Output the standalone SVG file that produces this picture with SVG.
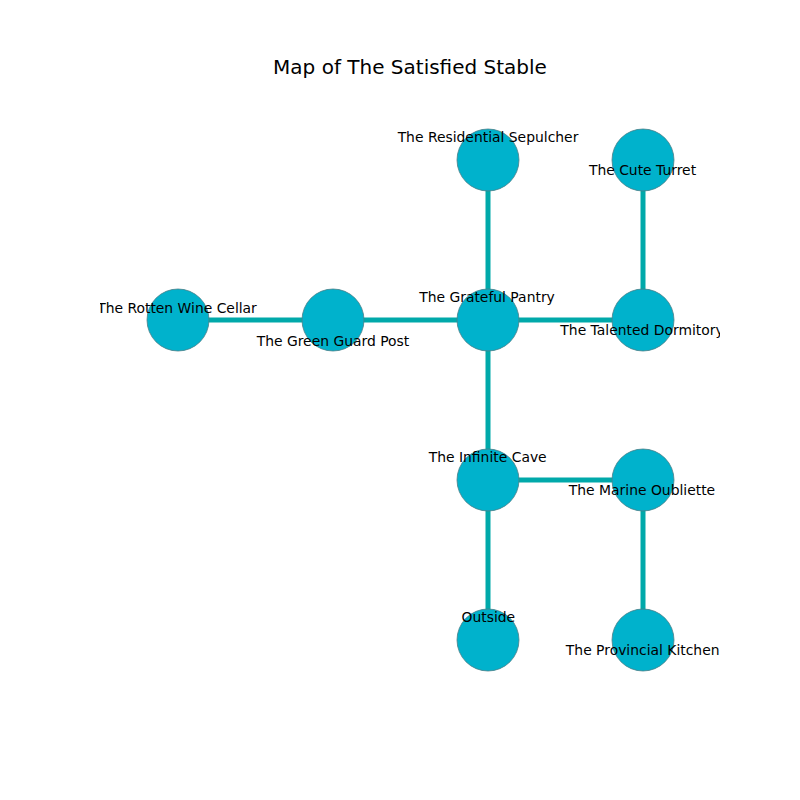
<svg xmlns="http://www.w3.org/2000/svg" width="800" height="800" viewBox="0 0 800 800">
  <style>
    .edge { stroke: #00a9aa; stroke-width: 5; fill: none; }
    .node circle { fill: #00b2cc; stroke: #4a7f88; stroke-width: 0.8; }
    .node text { font-family: "DejaVu Sans", sans-serif; font-size: 13.9px; fill: #000; text-anchor: middle; }
    .title { font-family: "DejaVu Sans", sans-serif; font-size: 20px; fill: #000; text-anchor: middle; }
  </style>
  <defs>
    <clipPath id="axes-clip">
      <rect x="100" y="96" width="620" height="616"/>
    </clipPath>
  </defs>
  <rect width="800" height="800" fill="#ffffff"/>
  <text class="title" x="410" y="74">Map of The Satisfied Stable</text>

  <g id="connectors" clip-path="url(#axes-clip)">
    <line class="edge" x1="178" y1="320" x2="333" y2="320"/>
    <line class="edge" x1="333" y1="320" x2="488" y2="320"/>
    <line class="edge" x1="488" y1="320" x2="643" y2="320"/>
    <line class="edge" x1="488" y1="160" x2="488" y2="320"/>
    <line class="edge" x1="643" y1="160" x2="643" y2="320"/>
    <line class="edge" x1="488" y1="320" x2="488" y2="480"/>
    <line class="edge" x1="488" y1="480" x2="643" y2="480"/>
    <line class="edge" x1="643" y1="480" x2="643" y2="640"/>
    <line class="edge" x1="488" y1="480" x2="488" y2="640"/>
  </g>

  <g id="nodes">
    <g id="node-rotten-wine-cellar" class="node"><circle cx="178" cy="320" r="31"/></g>
    <g id="node-green-guard-post" class="node"><circle cx="333" cy="320" r="31"/></g>
    <g id="node-grateful-pantry" class="node"><circle cx="488" cy="320" r="31"/></g>
    <g id="node-talented-dormitory" class="node"><circle cx="643" cy="320" r="31"/></g>
    <g id="node-residential-sepulcher" class="node"><circle cx="488" cy="160" r="31"/></g>
    <g id="node-cute-turret" class="node"><circle cx="643" cy="160" r="31"/></g>
    <g id="node-infinite-cave" class="node"><circle cx="488" cy="480" r="31"/></g>
    <g id="node-marine-oubliette" class="node"><circle cx="643" cy="480" r="31"/></g>
    <g id="node-outside" class="node"><circle cx="488" cy="640" r="31"/></g>
    <g id="node-provincial-kitchen" class="node"><circle cx="643" cy="640" r="31"/></g>
  </g>

  <g id="labels" class="node" clip-path="url(#axes-clip)">
    <text x="177" y="313.3">The Rotten Wine Cellar</text>
    <text x="333" y="346">The Green Guard Post</text>
    <text x="487" y="302.3">The Grateful Pantry</text>
    <text x="642" y="335">The Talented Dormitory</text>
    <text x="488" y="142.3">The Residential Sepulcher</text>
    <text x="642.5" y="175">The Cute Turret</text>
    <text x="487.7" y="462.3">The Infinite Cave</text>
    <text x="642" y="495">The Marine Oubliette</text>
    <text x="488.3" y="622.3">Outside</text>
    <text x="642.7" y="655">The Provincial Kitchen</text>
  </g>
</svg>
